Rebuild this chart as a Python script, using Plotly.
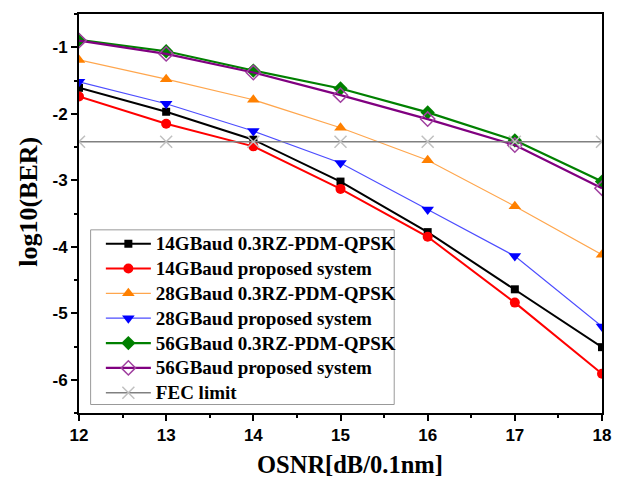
import plotly.graph_objects as go

# OSNR sweep (dB/0.1nm)
osnr = [12, 13, 14, 15, 16, 17, 18]

# log10(BER) per configuration
ber_14_rz = [-1.61, -1.97, -2.39, -3.02, -3.78, -4.64, -5.51]
ber_14_prop = [-1.74, -2.15, -2.49, -3.13, -3.85, -4.84, -5.91]
ber_28_rz = [-1.19, -1.48, -1.79, -2.21, -2.70, -3.39, -4.12]
ber_28_prop = [-1.52, -1.85, -2.26, -2.74, -3.44, -4.14, -5.20]
ber_56_rz = [-0.89, -1.06, -1.35, -1.62, -1.98, -2.40, -3.02]
ber_56_prop = [-0.90, -1.10, -1.38, -1.72, -2.08, -2.47, -3.12]
fec_limit = [-2.42] * 7

names = [
    "14GBaud 0.3RZ-PDM-QPSK",
    "14GBaud proposed system",
    "28GBaud 0.3RZ-PDM-QPSK",
    "28GBaud proposed system",
    "56GBaud 0.3RZ-PDM-QPSK",
    "56GBaud proposed system",
    "FEC limit",
]

y_tickvals = [-1, -2, -3, -4, -5, -6]
y_ticktext = ["-1", "-2", "-3", "-4", "-5", "-6"]
x_tickvals = [12, 13, 14, 15, 16, 17, 18]
x_ticktext = ["12", "13", "14", "15", "16", "17", "18"]

series = [
    (ber_14_rz, dict(color="#000000", width=2), dict(symbol="square", size=8, color="#000000")),
    (ber_14_prop, dict(color="#ff0000", width=2), dict(symbol="circle", size=10, color="#ff0000")),
    (ber_28_rz, dict(color="#ffa64d", width=1.2), dict(symbol="triangle-up", size=11, color="#ff8000")),
    (ber_28_prop, dict(color="#4d4dff", width=1.2), dict(symbol="triangle-down", size=11, color="#0000ff")),
    (ber_56_rz, dict(color="#008000", width=2.2), dict(symbol="diamond", size=11, color="#008000")),
    (ber_56_prop, dict(color="#800080", width=2.2),
     dict(symbol="diamond-open", size=11, color="#a040a0", line=dict(width=1.5))),
    (fec_limit, dict(color="#808080", width=1.5),
     dict(symbol="x-thin-open", size=12, color="#c0c0c0", line=dict(width=1.5, color="#c0c0c0"))),
]

fig = go.Figure()
for name, (vals, line, marker) in zip(names, series):
    fig.add_trace(go.Scatter(
        x=osnr, y=vals, mode="lines+markers", line=line, marker=marker,
        name=f"<span style='font-size:19px'>{name}</span>",
    ))

tick_font = dict(family="Arial, Liberation Sans", size=17, color="#000000", weight="bold")
serif_bold = dict(family="Times New Roman, Liberation Serif", color="#000000", weight="bold")

fig.update_layout(
    width=623, height=477,
    margin=dict(l=79, r=18, t=13, b=64),
    paper_bgcolor="white", plot_bgcolor="white",
    showlegend=True,
    legend=dict(
        x=0.0418, y=0.468, xanchor="left", yanchor="top",
        bgcolor="rgba(0,0,0,0)", borderwidth=0,
        font=dict(size=16.8, **serif_bold),
        itemwidth=45, tracegroupgap=0,
    ),
    # legend frame
    shapes=[
        dict(type="rect", xref="paper", yref="paper",
             x0=0.0222, x1=0.6027, y0=0.0213, y1=0.459,
             line=dict(color="#999999", width=1), fillcolor="white", layer="above"),
    ],
    xaxis=dict(
        range=[12, 18], tickvals=x_tickvals, ticktext=x_ticktext,
        ticks="outside", ticklen=6, tickwidth=2, tickcolor="#000000",
        showline=True, linecolor="#000000", linewidth=2, mirror=True,
        showgrid=False, zeroline=False, tickfont=tick_font,
        minor=dict(dtick=0.5, ticks="outside", ticklen=3, tickwidth=2, tickcolor="#000000"),
    ),
    yaxis=dict(
        range=[-6.5, -0.5], tickvals=y_tickvals, ticktext=y_ticktext,
        ticks="outside", ticklen=6, tickwidth=2, tickcolor="#000000",
        showline=True, linecolor="#000000", linewidth=2, mirror=True,
        showgrid=False, zeroline=False, tickfont=tick_font,
        minor=dict(tickvals=[-1.5, -2.5, -3.5, -4.5, -5.5, -6.5, -0.5], ticks="outside",
                   ticklen=3, tickwidth=2, tickcolor="#000000"),
    ),
    annotations=[
        dict(text="OSNR[dB/0.1nm]", xref="paper", yref="paper", x=0.518, y=-0.13,
             xanchor="center", yanchor="middle", showarrow=False, font=dict(size=24.5, **serif_bold)),
        dict(text="log10(BER)", xref="paper", yref="paper", x=-0.097, y=0.53,
             xanchor="center", yanchor="middle", showarrow=False, textangle=-90,
             font=dict(size=26, **serif_bold)),
    ],
)

fig.write_html("out.html")
